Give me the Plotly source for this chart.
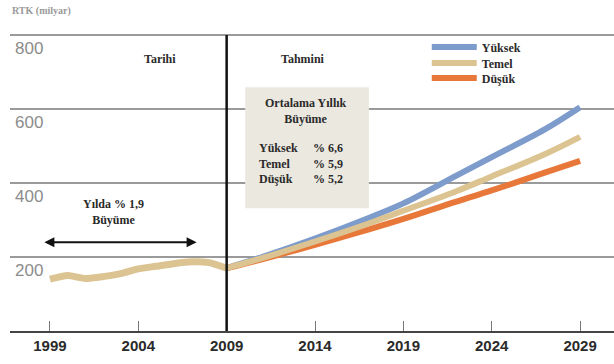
import plotly.graph_objects as go

# Historical air freight (RTK, billions)
hist_years = [1999, 2000, 2001, 2002, 2003, 2004, 2005, 2006, 2007, 2008, 2009]
hist_vals = [140, 150, 142, 147, 155, 168, 175, 182, 187, 185, 170]

# Forecast scenarios
fc_years = [2009, 2011, 2014, 2017, 2019, 2022, 2024, 2027, 2029]
yuksek = [170, 200, 250, 305, 345, 420, 470, 545, 605]
temel = [170, 197, 242, 290, 325, 378, 418, 478, 525]
dusuk = [170, 194, 233, 274, 303, 350, 380, 428, 460]

x_ticks = [1999, 2004, 2009, 2014, 2019, 2024, 2029]
y_ticks = [200, 400, 600, 800]
divider_year = 2009

C_BLUE = "#7d9ccb"
C_TAN = "#dbc491"
C_ORANGE = "#e8783a"
SERIF = "Liberation Serif, Times New Roman, serif"

fig = go.Figure()
fig.add_trace(go.Scatter(x=fc_years, y=yuksek, name="Yüksek", mode="lines", legend="legend",
                         line=dict(color=C_BLUE, width=6, shape="spline")))
fig.add_trace(go.Scatter(x=fc_years, y=dusuk, name="Düşük", mode="lines", legend="legend3",
                         line=dict(color=C_ORANGE, width=6, shape="spline")))
fig.add_trace(go.Scatter(x=fc_years, y=temel, name="Temel", mode="lines", legend="legend2",
                         line=dict(color=C_TAN, width=6, shape="spline")))
fig.add_trace(go.Scatter(x=hist_years, y=hist_vals, mode="lines", showlegend=False,
                         line=dict(color=C_TAN, width=7, shape="spline", smoothing=0.6)))

# Divider between history and forecast
fig.add_shape(type="line", x0=divider_year, x1=divider_year, y0=0, y1=800,
              xref="x", yref="y", line=dict(color="#111", width=2.5), layer="above")

# Average annual growth box
fig.add_shape(type="rect", x0=2010.05, x1=2017.05, y0=332, y1=659, xref="x", yref="y",
              fillcolor="#ebe8e0", line=dict(width=0), layer="above")

tf = dict(family=SERIF, size=12, color="#2a2a2a", weight="bold")
fig.add_annotation(x=2013.5, y=640, xref="x", yref="y", yanchor="top", showarrow=False,
                   text="Ortalama Yıllık<br>Büyüme", font=tf, align="center")
fig.add_annotation(x=2010.7, y=519, xref="x", yref="y", xanchor="left", yanchor="top",
                   showarrow=False, align="left", font=tf,
                   text="Yüksek<br>Temel<br>Düşük")
fig.add_annotation(x=2013.75, y=519, xref="x", yref="y", xanchor="left", yanchor="top",
                   showarrow=False, align="left", font=tf,
                   text="% 6,6<br>% 5,9<br>% 5,2")

fig.add_annotation(x=2002.6, y=368, xref="x", yref="y", yanchor="top", showarrow=False,
                   text="Yılda % 1,9<br>Büyüme", font=tf, align="center")
fig.add_annotation(x=2007.3, y=240, ax=1998.6, ay=240, xref="x", yref="y",
                   axref="x", ayref="y", text="", showarrow=True,
                   arrowhead=2, arrowside="end+start", arrowsize=1, arrowwidth=2,
                   arrowcolor="#111")

fig.add_annotation(x=2005.2, y=736, xref="x", yref="y", showarrow=False,
                   text="Tarihi", font=tf)
fig.add_annotation(x=2013.3, y=736, xref="x", yref="y", showarrow=False,
                   text="Tahmini", font=tf)

fig.add_annotation(x=0.0, y=1.0, xref="paper", yref="paper", xanchor="left",
                   yanchor="bottom", yshift=15, showarrow=False, text="RTK (milyar)",
                   font=dict(family=SERIF, size=10, color="#9a9a9a", weight="bold"))

# One legend box per scenario so the rows sit close together
leg_common = dict(x=0.69, xanchor="left", yanchor="middle",
                  font=dict(family=SERIF, size=12, color="#2a2a2a", weight="bold"),
                  bgcolor="rgba(0,0,0,0)", itemwidth=45)

fig.update_layout(
    width=614, height=364,
    margin=dict(l=10, r=0, t=34, b=33),
    paper_bgcolor="white", plot_bgcolor="white",
    legend=dict(y=0.956, **leg_common),
    legend2=dict(y=0.902, **leg_common),
    legend3=dict(y=0.852, **leg_common),
    xaxis=dict(range=[1996.74, 2030.92], tickvals=x_ticks, showgrid=False,
               zeroline=False, showline=True, linecolor="#444", linewidth=2,
               ticks="inside", ticklen=10, tickcolor="#777", tickwidth=1,
               tickfont=dict(family="Liberation Sans, Arial", size=15, color="#2a2a2a",
                             weight="bold")),
    yaxis=dict(range=[0, 803], tickvals=y_ticks, showgrid=True, gridcolor="#9a9a9a",
               gridwidth=2, zeroline=False, showline=False,
               ticklabelposition="inside", ticklabelshift=13, ticklabelstandoff=2,
               tickfont=dict(family="Liberation Sans, Arial", size=17, color="#8c8c8c")),
)

fig.write_html("out.html")
